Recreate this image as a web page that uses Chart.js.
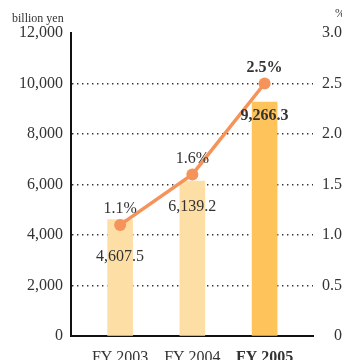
<!DOCTYPE html>
<html>
<head>
<meta charset="utf-8">
<script src="https://cdn.jsdelivr.net/npm/chart.js@4"></script>
<style>
  html, body { margin: 0; padding: 0; background: #fff; }
  #wrap { position: relative; width: 342px; height: 360px; overflow: hidden; }
  .unit { position: absolute; font-family: "Liberation Serif", serif; font-size: 12px; color: #333; }
</style>
</head>
<body>
<div id="wrap">
  <canvas id="chart" width="342" height="360"></canvas>
  <div class="unit" style="left:12px; top:11px;">billion yen</div>
  <div class="unit" style="left:335px; top:6px;">%</div>
</div>
<script>
// 年度別 売上高と比率
const years = ['FY 2003', 'FY 2004', 'FY 2005'];
const amounts = [4607.5, 6139.2, 9266.3];   // billion yen
const rates = [1.1, 1.6, 2.5];              // %
const leftTicks = [0, 2000, 4000, 6000, 8000, 10000, 12000];
const rightTicks = [0, 0.5, 1.0, 1.5, 2.0, 2.5, 3.0];

const SERIF = '"Liberation Serif", "DejaVu Serif", serif';
const barColors = ['#FDDFA6', '#FDDFA6', '#FEC45B'];
const lineColor = '#F4945A';
const textColor = '#333333';

// x は 1,2,3 の数値軸として扱い、棒の位置を少し内側へ寄せる
const xPos = years.map((_, i) => i + 1);

// 点と棒の上にラベルを描く
const valueLabels = {
  id: 'valueLabels',
  afterDatasetsDraw(chart) {
    const ctx = chart.ctx;
    const pts = chart.getDatasetMeta(1).data;
    ctx.save();
    ctx.fillStyle = textColor;
    ctx.textAlign = 'center';
    ctx.textBaseline = 'middle';
    pts.forEach((p, i) => {
      const last = i === pts.length - 1;
      ctx.font = (last ? 'bold ' : '') + '16px ' + SERIF;
      ctx.fillText(rates[i].toFixed(1) + '%', p.x, p.y - 16);
      ctx.fillText(amounts[i].toLocaleString('en-US', { minimumFractionDigits: 1 }), p.x, p.y + 32);
    });
    ctx.restore();
  }
};

new Chart(document.getElementById('chart'), {
  data: {
    datasets: [
      {
        type: 'bar',
        data: xPos.map((x, i) => ({ x: x, y: amounts[i] })),
        backgroundColor: barColors,
        barThickness: 25,
        yAxisID: 'y',
        order: 2
      },
      {
        type: 'line',
        data: xPos.map((x, i) => ({ x: x, y: rates[i] })),
        borderColor: lineColor,
        backgroundColor: lineColor,
        borderWidth: 3.5,
        pointRadius: 6,
        pointBackgroundColor: lineColor,
        pointBorderWidth: 0,
        yAxisID: 'y1',
        order: 1
      }
    ]
  },
  options: {
    responsive: false,
    animation: false,
    layout: { padding: { top: 33, left: 0, right: 0, bottom: 0 } },
    plugins: { legend: { display: false }, tooltip: { enabled: false } },
    scales: {
      x: {
        type: 'linear',
        offset: false,
        min: 0.32,
        max: 3.67,
        afterBuildTicks: (scale) => { scale.ticks = xPos.map(v => ({ value: v })); },
        afterFit: (scale) => { scale.height = 24; },
        grid: { display: false, drawTicks: false },
        border: { display: true, color: '#111', width: 2 },
        ticks: {
          padding: 12,
          color: textColor,
          font: (c) => ({ family: SERIF, size: 16, weight: c.index === 2 ? 'bold' : 'normal' }),
          callback: (v) => years[v - 1] || ''
        }
      },
      y: {
        position: 'left',
        min: 0,
        max: 12000,
        afterBuildTicks: (scale) => { scale.ticks = leftTicks.map(v => ({ value: v })); },
        afterFit: (scale) => { scale.width = 71; },
        // border.dash は目盛線（点線）に効き、軸線そのものは実線のまま
        border: { display: true, color: '#111', width: 2, dash: [1.4, 3.6] },
        grid: {
          drawTicks: false,
          color: (c) => (c.tick && (c.tick.value === 0 || c.tick.value === 12000)) ? 'rgba(0,0,0,0)' : '#333',
          lineWidth: 1.4
        },
        ticks: {
          padding: 8,
          color: textColor,
          font: { family: SERIF, size: 16 },
          callback: (v) => v.toLocaleString('en-US')
        }
      },
      y1: {
        position: 'right',
        min: 0,
        max: 3,
        afterBuildTicks: (scale) => { scale.ticks = rightTicks.map(v => ({ value: v })); },
        afterFit: (scale) => { scale.width = 29; },
        border: { display: false },
        grid: { display: false, drawTicks: false },
        ticks: {
          padding: 10,
          crossAlign: 'far',
          color: textColor,
          font: { family: SERIF, size: 16 },
          callback: (v) => v === 0 ? '0' : v.toFixed(1)
        }
      }
    }
  },
  plugins: [valueLabels]
});
</script>
</body>
</html>
